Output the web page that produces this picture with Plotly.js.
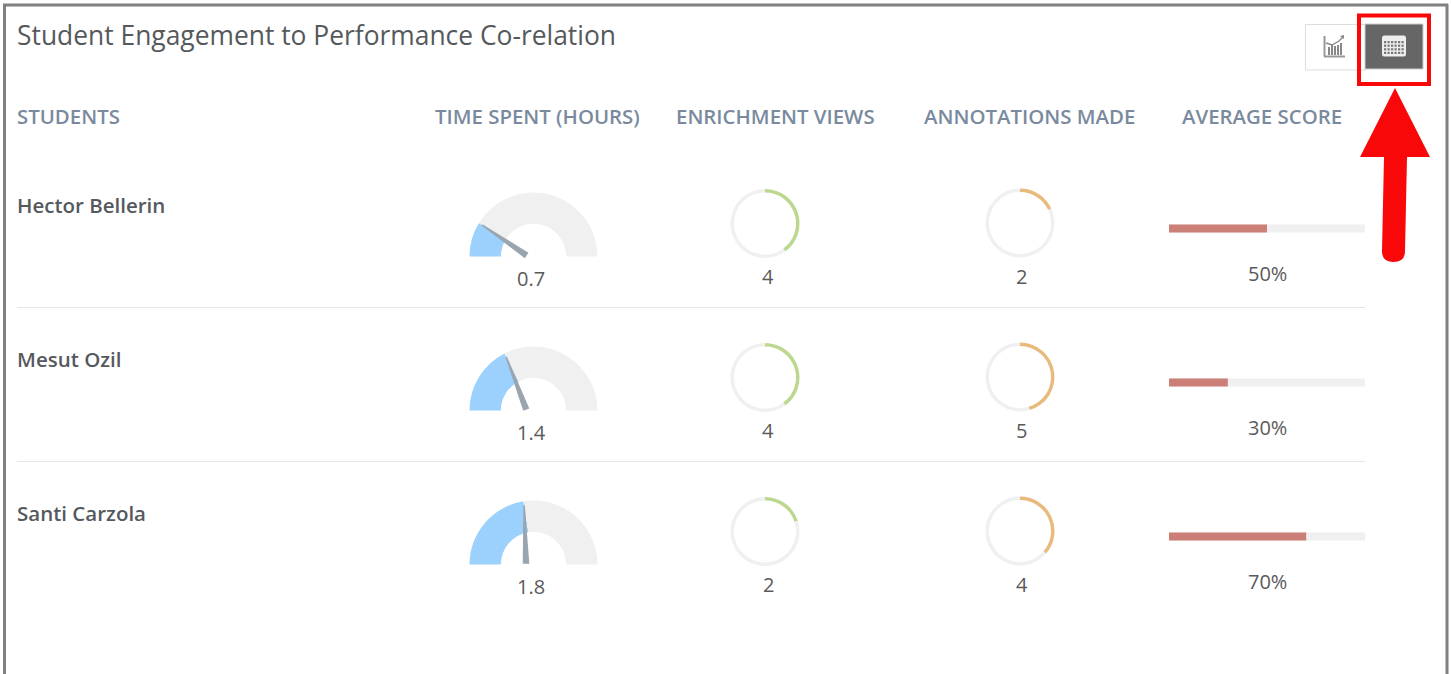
<!DOCTYPE html>
<html><head><meta charset="utf-8">
<script src="https://cdn.plot.ly/plotly-3.0.1.min.js"></script>
<style>html,body{margin:0;padding:0;background:#fff;overflow:hidden}#c{width:1451px;height:674px}</style>
</head><body><div id="c"></div>
<script>
const students = ["Hector Bellerin", "Mesut Ozil", "Santi Carzola"];
const timeSpent = [0.7, 1.4, 1.8];
const enrichmentViews = [4, 4, 2];
const annotationsMade = [2, 5, 4];
const averageScore = [50, 30, 70];
const headers = ["STUDENTS", "TIME SPENT (HOURS)", "ENRICHMENT VIEWS", "ANNOTATIONS MADE", "AVERAGE SCORE"];
const chartTitle = "Student Engagement to Performance Co-relation";
const timeMax = 4, enrichmentMax = 10, annotationMax = 11, scoreMax = 100;

const W = 1451, H = 674;
const rowOffset = [0, 154, 308];
const FONT = "Open Sans, sans-serif";
const fx = x => x / W, fy = y => 1 - y / H;
const dom = (cx, cy, r) => ({x: [fx(cx - r), fx(cx + r)], y: [fy(cy + r), fy(cy - r)]});

const traces = [];
const shapes = [];
const annotations = [];
const text = (x, y, t, size, color, anchor, weight) => annotations.push({
  x, y, xref: "x", yref: "y", text: t, showarrow: false, xanchor: anchor, yanchor: "middle",
  borderpad: 0, borderwidth: 0,
  font: {family: FONT, size, color, weight: weight || 400}
});
const pie = (d, values, colors, hole, rotation) => traces.push({
  type: "pie", domain: d, values, hole, rotation, sort: false, direction: "clockwise",
  textinfo: "none", hoverinfo: "skip", showlegend: false,
  marker: {colors, line: {width: 0}}
});
const rect = (x0, y0, x1, y1, fill, line, width) => shapes.push({type: "rect", xref: "x", yref: "y", x0, y0, x1, y1,
  fillcolor: fill || "rgba(0,0,0,0)", line: {color: line || "rgba(0,0,0,0)", width: width || 0}});
const seg = (x0, y0, x1, y1, color, width) => shapes.push({type: "line", xref: "x", yref: "y", x0, y0, x1, y1, line: {color, width}});
const path = (d, fill, line, width) => shapes.push({type: "path", xref: "x", yref: "y", path: d,
  fillcolor: fill || "rgba(0,0,0,0)", line: {color: line || "rgba(0,0,0,0)", width: width || 0}});

// base axis trace, so the pixel-scale axes exist
traces.push({type: "scatter", x: [0, W], y: [0, H], mode: "none", hoverinfo: "skip", showlegend: false});

students.forEach((name, i) => {
  const o = rowOffset[i];
  text(17, 204.7 + o, name, 20.5, "#55595e", "left", 600);

  // gauge
  const t = timeSpent[i];
  pie(dom(533.5, 256.5 + o, 64), [t, timeMax - t, timeMax],
      ["#9dd1fd", "#f0f0f0", "rgba(0,0,0,0)"], 0.51, -90);
  const a = Math.PI * t / timeMax;
  const cx = 533.5, cy = 256.5 + o, r = 60;
  const tx = cx - r * Math.cos(a), ty = cy - r * Math.sin(a);
  const px = 526, py = 255 + o;
  const d = Math.hypot(tx - px, ty - py);
  const nx = (py - ty) / d * 2.5, ny = (tx - px) / d * 2.5;
  path(`M${tx} ${ty} L${px + nx} ${py + ny} L${px - nx} ${py - ny} Z`, "#9aa5af", "#9aa5af", 1.5);
  text(531, 278.3 + o, String(t), 20, "#5a5a5a", "center");

  // enrichment ring
  pie(dom(765, 223.5 + o, 34.5), [enrichmentViews[i], enrichmentMax - enrichmentViews[i]],
      ["#bcd88f", "#f0f0f0"], 0.9, 0);
  text(768, 276.5 + o, String(enrichmentViews[i]), 20, "#5a5a5a", "center");

  // annotations ring
  pie(dom(1020, 223 + o, 34.5), [annotationsMade[i], annotationMax - annotationsMade[i]],
      ["#e8bb7c", "#f0f0f0"], 0.9, 0);
  text(1021.5, 276.5 + o, String(annotationsMade[i]), 20, "#5a5a5a", "center");

  text(1267, 273 + o, averageScore[i] + "%", 20, "#5a5a5a", "center");
});

// score bars: own x axis where 0..100 spans the track
const barY = rowOffset.map(o => 228.5 + o);
traces.push({type: "bar", orientation: "h", xaxis: "x2", yaxis: "y2", x: students.map(() => scoreMax), y: barY, width: 8,
  marker: {color: "#f0f0f0", line: {width: 0}}, hoverinfo: "skip", showlegend: false});
traces.push({type: "bar", orientation: "h", xaxis: "x2", yaxis: "y2", x: averageScore, y: barY, width: 8,
  marker: {color: "#cb7f77", line: {width: 0}}, hoverinfo: "skip", showlegend: false});

// header and title
text(17, 34.5, chartTitle, 26.4, "#55595c", "left", 400);
const headerX = [17, 537, 775, 1029, 1262];
headers.forEach((h, i) => text(headerX[i], 116, h, 20.4, "#7a8a9e", i ? "center" : "left", 600));

// frame
seg(4.5, 4, 4.5, 674, "#808080", 3);
seg(3, 5, 1448, 5, "#808080", 3);
seg(1447, 4, 1447, 674, "#808080", 3);
// separators
seg(17, 307.5, 1365, 307.5, "#e6e6e6", 1);
seg(17, 461.5, 1365, 461.5, "#e6e6e6", 1);
// buttons
rect(1305.5, 24.5, 1366, 70, "#fff", "#dddddd", 1);
rect(1365, 24, 1423, 69, "#666666", "#cccccc", 1);
// chart icon
seg(1324.5, 36, 1324.5, 56.5, "#999", 2);
seg(1324, 56.5, 1345, 56.5, "#999", 2);
[1328, 1331, 1334, 1337, 1340].forEach((x, k) => rect(x, [47, 44, 46, 45, 43][k], x + 2, 55, "#888"));
path("M1326 43 L1332 45 L1339 41 L1343 37", null, "#888", 1.4);
path("M1340 36 L1344 35 L1344 39 Z", "#888");
// calendar icon
path("M1384 35.5 H1404 Q1406 35.5 1406 38 V54 Q1406 56.5 1404 56.5 H1384 Q1382 56.5 1382 54 V38 Q1382 35.5 1384 35.5 Z", "#eeeeee");
for (let r = 0; r < 4; r++) for (let c = 0; c < 6; c++)
  rect(1384 + c * 3.5, 41 + r * 3.6, 1386.2 + c * 3.5, 43.2 + r * 3.6, "#777");
// red box and arrow
rect(1359, 15.5, 1429, 84, null, "#f80808", 4);
path("M1395 88 L1430 157 L1407 157 L1405 251 Q1405 262 1393.5 262 Q1382 262 1382 251 L1384 157 L1360 157 Z", "#f80808");

const layout = {
  width: W, height: H, margin: {l: 0, r: 0, t: 0, b: 0, pad: 0}, autosize: false,
  paper_bgcolor: "#fff", plot_bgcolor: "rgba(0,0,0,0)", showlegend: false, barmode: "overlay",
  xaxis: {range: [0, W], domain: [0, 1], visible: false, fixedrange: true},
  yaxis: {range: [H, 0], domain: [0, 1], visible: false, fixedrange: true},
  xaxis2: {range: [0, scoreMax], domain: [fx(1169), fx(1365)], visible: false, anchor: "y2", fixedrange: true},
  yaxis2: {range: [H, 0], domain: [0, 1], visible: false, anchor: "x2", fixedrange: true},
  shapes, annotations
};
Plotly.newPlot("c", traces, layout, {displayModeBar: false, staticPlot: true});
</script></body></html>
